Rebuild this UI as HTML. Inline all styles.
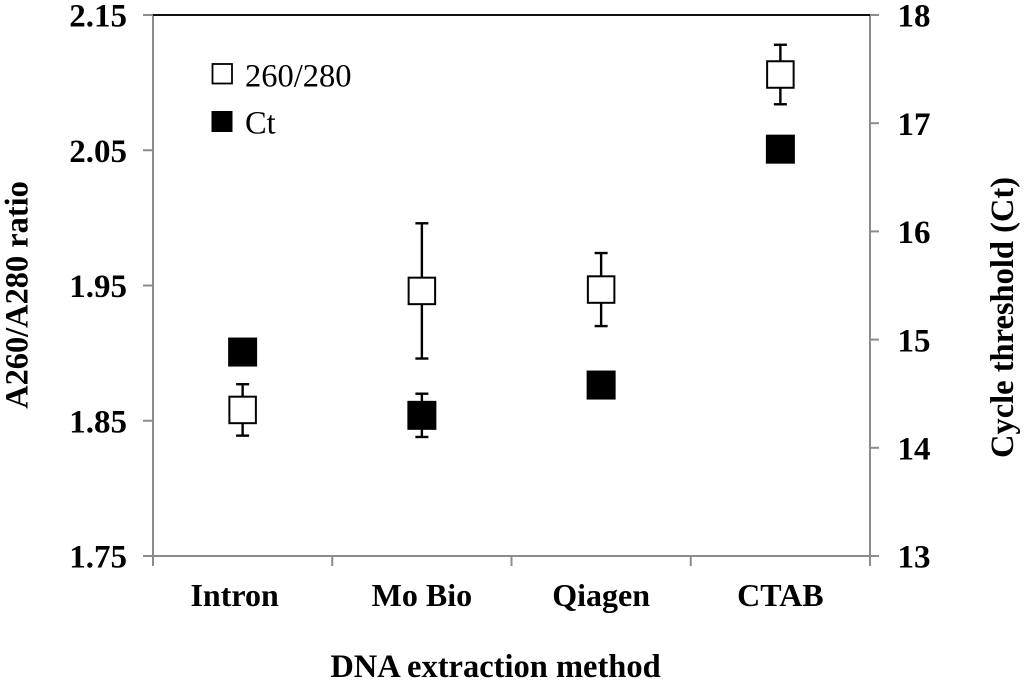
<!DOCTYPE html>
<html lang="en">
<head>
<meta charset="utf-8">
<title>DNA extraction method chart</title>
<style>
html,body{margin:0;padding:0;background:#fff;width:1024px;height:682px;overflow:hidden}
svg{display:block}
text{font-family:"Liberation Serif",serif;fill:#000}
.b{font-weight:bold}
</style>
</head>
<body>
<svg id="chart" width="1024" height="682" viewBox="0 0 1024 682" xmlns="http://www.w3.org/2000/svg">
  <g id="axes"></g>
  <g id="marks"></g>
  <g>
    <rect x="212.5" y="64" width="19.5" height="19.5" fill="#fff" stroke="#000" stroke-width="1.8"/>
    <text x="245" y="86.5" font-size="32.5">260/280</text>
    <rect x="211.5" y="111" width="21" height="21" fill="#000"/>
    <text x="245" y="133.5" font-size="32.5">Ct</text>
  </g>
  <text class="b" x="495.5" y="677" font-size="32.5" text-anchor="middle">DNA extraction method</text>
  <text class="b" transform="translate(27.5,295) rotate(-90)" font-size="32.4" text-anchor="middle">A260/A280 ratio</text>
  <text class="b" transform="translate(1013,317.5) rotate(-90)" font-size="32.5" text-anchor="middle">Cycle threshold (Ct)</text>
</svg>
<script>
const categories = ['Intron', 'Mo Bio', 'Qiagen', 'CTAB'];
const leftTicks = [1.75, 1.85, 1.95, 2.05, 2.15];
const rightTicks = [13, 14, 15, 16, 17, 18];
const ratioValues = [1.858, 1.946, 1.947, 2.106];
const ratioErrors = [0.019, 0.050, 0.027, 0.022];
const ctValues = [14.885, 14.30, 14.58, 16.76];
const ctErrors = [0, 0.20, 0, 0];

const NS = 'http://www.w3.org/2000/svg';
const plot = {left: 153, right: 870, top: 15, bottom: 556};
const axisGrey = '#8c8c8c';
const axes = document.getElementById('axes');
const marks = document.getElementById('marks');

function yLeft(v) {
  const min = leftTicks[0], max = leftTicks[leftTicks.length - 1];
  return plot.bottom - (v - min) / (max - min) * (plot.bottom - plot.top);
}
function yRight(v) {
  const min = rightTicks[0], max = rightTicks[rightTicks.length - 1];
  return plot.bottom - (v - min) / (max - min) * (plot.bottom - plot.top);
}
function xBand(i) {
  return plot.left + (i + 0.5) * (plot.right - plot.left) / categories.length;
}
function xEdge(i) {
  return plot.left + i * (plot.right - plot.left) / categories.length;
}
function line(parent, x1, y1, x2, y2, color, w, name) {
  const el = document.createElementNS(NS, 'line');
  el.setAttribute('x1', x1);
  el.setAttribute('y1', y1);
  el.setAttribute('x2', x2);
  el.setAttribute('y2', y2);
  el.setAttribute('stroke', color);
  el.setAttribute('stroke-width', w);
  
  
  parent.appendChild(el);
  return el;
}
function label(parent, x, y, str, anchor, size, name) {
  const el = document.createElementNS(NS, 'text');
  el.setAttribute('x', x);
  el.setAttribute('y', y);
  el.setAttribute('font-size', size);
  el.setAttribute('class', 'b');
  el.setAttribute('text-anchor', anchor);
  el.textContent = str;
  
  
  parent.appendChild(el);
  return el;
}
function square(parent, cx, cy, size, fill, strokeW, name) {
  const el = document.createElementNS(NS, 'rect');
  el.setAttribute('x', cx - size / 2);
  el.setAttribute('y', cy - size / 2);
  el.setAttribute('width', size);
  el.setAttribute('height', size);
  el.setAttribute('fill', fill);
  el.setAttribute('stroke', '#000');
  el.setAttribute('stroke-width', strokeW);
  
  
  parent.appendChild(el);
}
function errorBar(parent, cx, yHigh, yLow, name) {
  line(parent, cx, yHigh, cx, yLow, '#000', 2.4, name + '-stem');
  line(parent, cx - 6.5, yHigh, cx + 6.5, yHigh, '#000', 2.4, name + '-cap-top');
  line(parent, cx - 6.5, yLow, cx + 6.5, yLow, '#000', 2.4, name + '-cap-bottom');
}

line(axes, plot.left, plot.top, plot.left, plot.bottom + 10, axisGrey, 2, 'y-axis-left');
line(axes, plot.right, plot.top, plot.right, plot.bottom + 10, axisGrey, 2, 'y-axis-right');
line(axes, plot.left - 10, plot.bottom, plot.right + 9, plot.bottom, axisGrey, 2, 'x-axis');
line(axes, plot.left, plot.top, plot.right, plot.top, '#111', 2, 'plot-top-border');

leftTicks.forEach(function (t) {
  const y = yLeft(t);
  line(axes, plot.left - 10, y, plot.left, y, axisGrey, 2, 'y-left-tick');
  label(axes, 127, y + 11.7, t.toFixed(2), 'end', 33, 'y-left-tick-label');
});
rightTicks.forEach(function (t) {
  const y = yRight(t);
  line(axes, plot.right, y, plot.right + 9, y, axisGrey, 2, 'y-right-tick');
  label(axes, 897.5, y + 11.7, String(t), 'start', 33, 'y-right-tick-label');
});
categories.forEach(function (c, i) {
  line(axes, xEdge(i + 1), plot.bottom, xEdge(i + 1), plot.bottom + 10, axisGrey, 2, 'x-tick');
  const el = label(axes, xBand(i), 606, c, 'middle', 32, 'x-tick-label');
  if (i === 0) {
    el.setAttribute('dx', '-8');
  }
});

categories.forEach(function (c, i) {
  const cx = xBand(i);
  errorBar(marks, cx, yLeft(ratioValues[i] + ratioErrors[i]), yLeft(ratioValues[i] - ratioErrors[i]), 'ratio-error-bar');
  square(marks, cx, yLeft(ratioValues[i]), 26.5, '#fff', 2, 'ratio-point');
  if (ctErrors[i] > 0) {
    errorBar(marks, cx, yRight(ctValues[i] + ctErrors[i]), yRight(ctValues[i] - ctErrors[i]), 'ct-error-bar');
  }
  square(marks, cx, yRight(ctValues[i]), 29, '#000', 0, 'ct-point');
});
</script>
</body>
</html>
